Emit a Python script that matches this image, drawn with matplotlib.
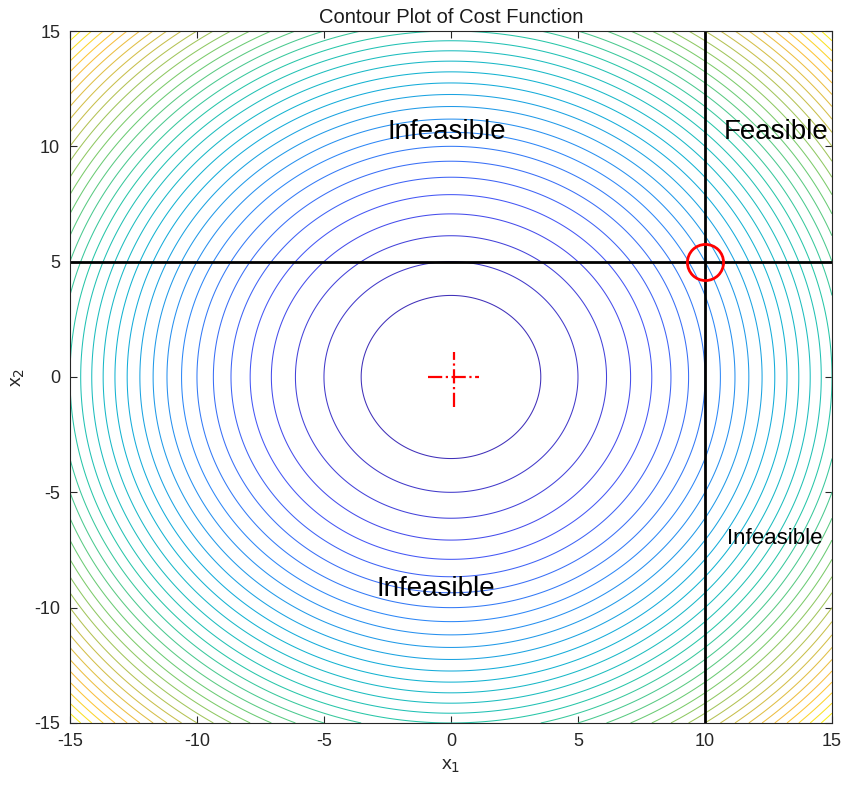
import numpy as np
import matplotlib.pyplot as plt
from matplotlib.colors import LinearSegmentedColormap

plt.rcParams['font.family'] = ['Liberation Sans', 'DejaVu Sans']
plt.rcParams['axes.unicode_minus'] = False

# grid and cost function levels
x1_range = [-15, 15]
x2_range = [-15, 15]
level_step = 12.5
level_max = 437.5

# constraint lines and optimum
x1_limit = 10
x2_limit = 5
opt_point = [10, 5]
uncon_min = [0, 0]

region_labels = ['Infeasible', 'Feasible', 'Infeasible', 'Infeasible']
label_pos = [(-0.15, 10.6), (12.8, 10.6), (-0.6, -9.2), (12.75, -7.0)]
label_size = [20, 20, 20, 16]

# rough parula colormap
parula_pts = [
    (0.2422, 0.1504, 0.6603),
    (0.2810, 0.3228, 0.9579),
    (0.1786, 0.5289, 0.9682),
    (0.0689, 0.6948, 0.8394),
    (0.1540, 0.7780, 0.6640),
    (0.4496, 0.8003, 0.4349),
    (0.7800, 0.7500, 0.3000),
    (0.9938, 0.7455, 0.2403),
    (0.9763, 0.9831, 0.0538),
]
parula = LinearSegmentedColormap.from_list('parula', parula_pts)

x1 = np.linspace(x1_range[0], x1_range[1], 601)
x2 = np.linspace(x2_range[0], x2_range[1], 601)
X1, X2 = np.meshgrid(x1, x2)
F = X1**2 + X2**2
levels = np.arange(level_step, level_max + 0.01, level_step)

fig = plt.figure(figsize=(8.45, 7.89), dpi=100)
ax = fig.add_axes([0.0828, 0.0837, 0.9018, 0.877])

ax.contour(X1, X2, F, levels=levels, cmap=parula, vmin=F.min(), vmax=F.max(), linewidths=0.75)

# constraints
ax.plot([x1_limit, x1_limit], x2_range, color='k', lw=2)
ax.plot(x1_range, [x2_limit, x2_limit], color='k', lw=2)
ax.plot(opt_point[0], opt_point[1], 'o', mfc='none', mec='red', ms=26, mew=2)
ax.plot([uncon_min[0] - 0.9, uncon_min[0] + 1.1], [uncon_min[1], uncon_min[1]], 'r-.', lw=1.6)
ax.plot([uncon_min[0] + 0.1, uncon_min[0] + 0.1], [uncon_min[1] - 1.3, uncon_min[1] + 1.1], 'r-.', lw=1.6)

for txt, (px, py), fs in zip(region_labels, label_pos, label_size):
    ax.text(px, py, txt, fontsize=fs, ha='center', va='center')

ax.set_xlim(x1_range)
ax.set_ylim(x2_range)
ticks = np.arange(-15, 16, 5)
ax.set_xticks(ticks)
ax.set_yticks(ticks)
ax.tick_params(direction='in', top=True, right=True, length=5, labelsize=13,
               colors='0.15', width=0.8, pad=7)
for s in ax.spines.values():
    s.set_color('0.15')
    s.set_linewidth(0.8)

ax.set_title('Contour Plot of Cost Function', fontsize=14.5, pad=6, color='0.1')
ax.set_xlabel('x$_1$', fontsize=14, color='0.15', labelpad=6)
ax.set_ylabel('x$_2$', fontsize=14, color='0.15', labelpad=5)

fig.savefig('out.png', dpi=100)
